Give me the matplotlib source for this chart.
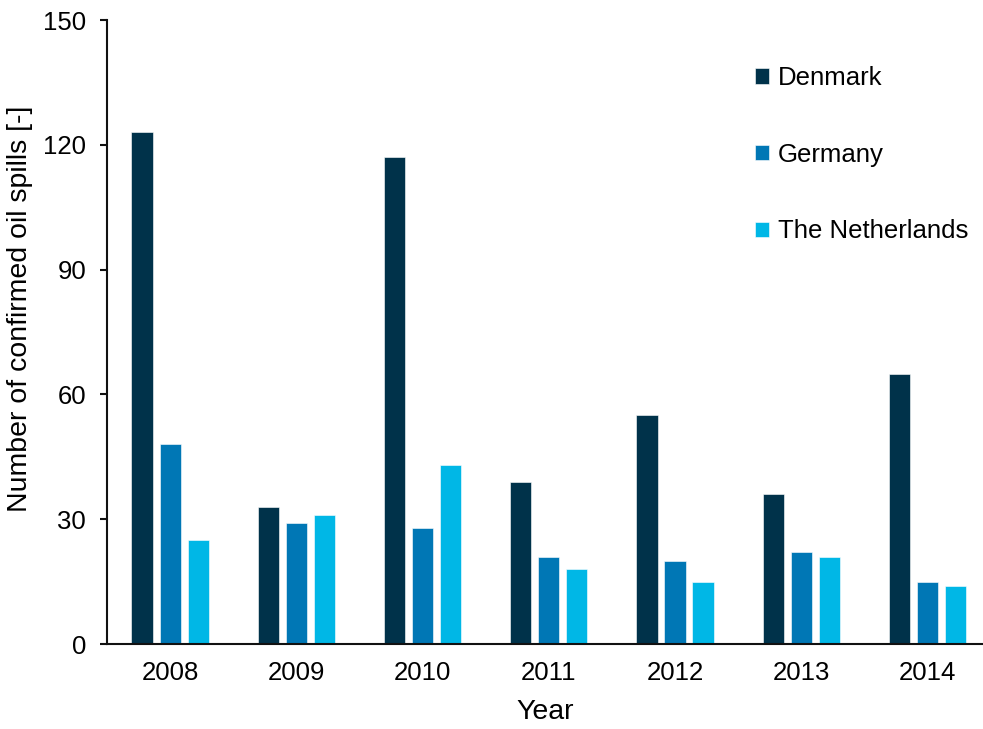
import numpy as np
import matplotlib
matplotlib.use("Agg")
import matplotlib.pyplot as plt

plt.rcParams['font.family'] = ['Liberation Sans', 'DejaVu Sans']

years = ['2008', '2009', '2010', '2011', '2012', '2013', '2014']
denmark = [123, 33, 117, 39, 55, 36, 65]
germany = [48, 29, 28, 21, 20, 22, 15]
netherlands = [25, 31, 43, 18, 15, 21, 14]

series = [('Denmark', denmark, '#00324A'),
          ('Germany', germany, '#0077B5'),
          ('The Netherlands', netherlands, '#00B7E6')]

fig = plt.figure(figsize=(9.83, 7.29), dpi=100)
ax = fig.add_axes([107/983, 85/729, 1 - 107/983, 624/729])

x = np.arange(len(years))
w = 0.168
step = 0.222
for i, (name, vals, col) in enumerate(series):
    ax.bar(x + (i - 1) * step, vals, width=w, color=col,
           edgecolor='white', linewidth=0.4, label=name)

ax.set_xlim(-0.5, 6.44)
ax.set_ylim(0, 150)
ax.set_yticks(range(0, 151, 30))
ax.set_xticks(x)
ax.set_xticklabels(years)

for s in ['top', 'right']:
    ax.spines[s].set_visible(False)
ax.spines['left'].set_linewidth(1.5)
ax.spines['bottom'].set_linewidth(1.5)
ax.spines['left'].set_color('#111111')
ax.spines['bottom'].set_color('#111111')

ax.tick_params(axis='y', length=5, width=1.5, pad=10, labelsize=18.5, color='#111111')
ax.tick_params(axis='x', length=0, pad=12, labelsize=18.5)

ax.set_ylabel('Number of confirmed oil spills [-]', fontsize=20.5)
ax.yaxis.set_label_coords(-0.084, 0.537)
ax.set_xlabel('Year', fontsize=20.5, labelpad=10)

ax.legend(loc='upper left', bbox_to_anchor=(755/983, 1 - 66/729),
          bbox_transform=fig.transFigure, frameon=False, fontsize=18.5,
          handlelength=0.55, handleheight=0.55, handletextpad=0.35,
          labelspacing=2.05, borderpad=0, borderaxespad=0)

fig.savefig('out.png', dpi=100)
